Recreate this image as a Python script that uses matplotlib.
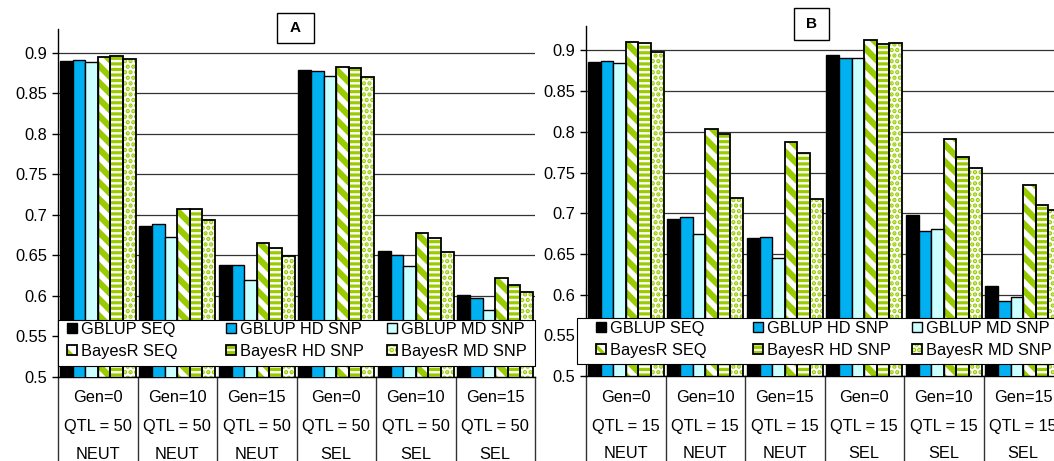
import numpy as np
import matplotlib.pyplot as plt
from matplotlib.patches import Rectangle
from matplotlib.legend import Legend
from matplotlib.ticker import FuncFormatter

plt.rcParams['font.family'] = ['Liberation Sans', 'DejaVu Sans']
plt.rcParams['hatch.linewidth'] = 2.5

# Data
series_names = ['GBLUP SEQ', 'GBLUP HD SNP', 'GBLUP MD SNP',
                'BayesR SEQ', 'BayesR HD SNP', 'BayesR MD SNP']
gen_labels = ['Gen=0', 'Gen=10', 'Gen=15', 'Gen=0', 'Gen=10', 'Gen=15']
scen_labels = ['NEUT', 'NEUT', 'NEUT', 'SEL', 'SEL', 'SEL']

# panel A: QTL = 50
gblup_seq_a = [0.890, 0.687, 0.638, 0.879, 0.656, 0.601]
gblup_hd_a = [0.891, 0.689, 0.638, 0.878, 0.651, 0.597]
gblup_md_a = [0.889, 0.673, 0.620, 0.872, 0.637, 0.583]
bayesr_seq_a = [0.895, 0.708, 0.666, 0.883, 0.678, 0.622]
bayesr_hd_a = [0.896, 0.707, 0.659, 0.882, 0.671, 0.613]
bayesr_md_a = [0.893, 0.694, 0.649, 0.870, 0.654, 0.605]

# panel B: QTL = 15
gblup_seq_b = [0.886, 0.693, 0.669, 0.894, 0.698, 0.611]
gblup_hd_b = [0.887, 0.695, 0.671, 0.891, 0.678, 0.592]
gblup_md_b = [0.884, 0.675, 0.645, 0.891, 0.680, 0.597]
bayesr_seq_b = [0.910, 0.804, 0.787, 0.913, 0.791, 0.735]
bayesr_hd_b = [0.909, 0.797, 0.774, 0.908, 0.769, 0.710]
bayesr_md_b = [0.898, 0.719, 0.718, 0.909, 0.755, 0.704]

vals_a = [gblup_seq_a, gblup_hd_a, gblup_md_a, bayesr_seq_a, bayesr_hd_a, bayesr_md_a]
vals_b = [gblup_seq_b, gblup_hd_b, gblup_md_b, bayesr_seq_b, bayesr_hd_b, bayesr_md_b]

GREEN = '#99CC00'
styles = [
    dict(color='black', hatch=None, hlw=0),
    dict(color='#00B0F0', hatch=None, hlw=0),
    dict(color='#CCFFFF', hatch=None, hlw=0),
    dict(color='white', hatch='\\\\', hlw=4.5),
    dict(color='white', hatch='---', hlw=2.3),
    dict(color='white', hatch='...', hlw=2.2),
]

W, H = 1054, 461
FS = 11.8
BW = 0.1585


def px_box(x0, x1, ytop, ybot):
    return [x0 / W, 1 - ybot / H, (x1 - x0) / W, (ybot - ytop) / H]


fig = plt.figure(figsize=(W / 100, H / 100), dpi=100)


def draw_panel(ax, values, qtl, ybot_px, ytop_px, leg_cols_px, leg_top_px, frame_px):
    x = np.arange(len(gen_labels))
    ax_h = ybot_px - ytop_px
    handles = []
    for j, (vals, st) in enumerate(zip(values, styles)):
        pos = x + (j - 2.5) * BW
        if st['hatch']:
            with plt.rc_context({'hatch.linewidth': st['hlw']}):
                hb = ax.bar(pos, vals, width=BW, color='white', edgecolor=GREEN,
                            linewidth=0, hatch=st['hatch'], zorder=2)
            for p in hb:
                if hasattr(p, 'set_hatch_linewidth'):
                    p.set_hatch_linewidth(st['hlw'])
            ob = ax.bar(pos, vals, width=BW, fill=False, edgecolor='black',
                        linewidth=1.3, zorder=3)
            handles.append((hb, ob))
        else:
            ob = ax.bar(pos, vals, width=BW, color=st['color'], edgecolor='black',
                        linewidth=1.0, zorder=3)
            handles.append(ob)

    ax.set_xlim(-0.5, 5.5)
    ax.set_ylim(0.5, 0.93)
    ax.set_yticks(np.arange(0.5, 0.901, 0.05))
    ax.yaxis.set_major_formatter(FuncFormatter(lambda v, p: f'{v:g}'))
    ax.tick_params(axis='y', direction='out', length=4.5, width=1, pad=3,
                   labelsize=FS, colors='black')
    ax.set_xticks([])
    ax.yaxis.grid(True, color='#333333', linewidth=0.9)
    ax.set_axisbelow(True)
    for s in ['top', 'right']:
        ax.spines[s].set_visible(False)
    ax.spines['left'].set_linewidth(1.0)
    ax.spines['bottom'].set_linewidth(1.0)

    # category table below the axis
    tr = ax.get_xaxis_transform()
    for b in np.arange(-0.5, 6.0, 1.0):
        ax.plot([b, b], [0, -0.35], transform=tr, color='#333333', lw=1.0,
                clip_on=False)
    for i in range(len(gen_labels)):
        for ypx, txt in zip([397, 426, 454],
                            [gen_labels[i], f'QTL = {qtl}', scen_labels[i]]):
            ax.text(i, (ybot_px - ypx) / ax_h, txt, transform=tr, ha='center',
                    va='center', fontsize=FS, clip_on=False)

    # legend frame and three fixed-width columns
    fx0, fx1, fy0, fy1 = frame_px
    ax_l = ax.get_position().x0 * W
    ax_w = ax.get_position().width * W
    ax.add_patch(Rectangle(((fx0 - ax_l) / ax_w, (ybot_px - fy1) / ax_h),
                           (fx1 - fx0) / ax_w, (fy1 - fy0) / ax_h,
                           transform=ax.transAxes, facecolor='white',
                           edgecolor='black', linewidth=0.8, zorder=5,
                           clip_on=False))
    for c in range(3):
        leg = Legend(ax, [handles[c], handles[c + 3]],
                     [series_names[c], series_names[c + 3]],
                     loc='upper left',
                     bbox_to_anchor=((leg_cols_px[c] - ax_l) / ax_w,
                                     (ybot_px - leg_top_px) / ax_h),
                     frameon=False, borderpad=0, borderaxespad=0,
                     handlelength=0.6, handleheight=0.6, handletextpad=0.25,
                     labelspacing=0.4, fontsize=FS)
        leg.set_zorder(6)
        ax.add_artist(leg)


axA = fig.add_axes(px_box(58, 535, 28.7, 377))
draw_panel(axA, vals_a, 50, 377, 28.7, [67, 226, 387], 322, (58, 535, 320, 366))

axB = fig.add_axes(px_box(586, 1063, 26, 376))
draw_panel(axB, vals_b, 15, 376, 26, [596, 753, 912], 321, (577, 1070, 318, 364))

# panel letters in boxes
for letter, (x0, x1, y0, y1) in [('A', (276.5, 314, 13, 43)), ('B', (794, 829, 8, 40))]:
    fig.add_artist(Rectangle((x0 / W, 1 - y1 / H), (x1 - x0) / W, (y1 - y0) / H,
                             transform=fig.transFigure, facecolor='white',
                             edgecolor='black', linewidth=1.0))
    fig.text((x0 + x1) / 2 / W, 1 - (y0 + y1) / 2 / H, letter, ha='center',
             va='center', fontsize=11, fontweight='bold')

fig.savefig('out.png', dpi=100)
